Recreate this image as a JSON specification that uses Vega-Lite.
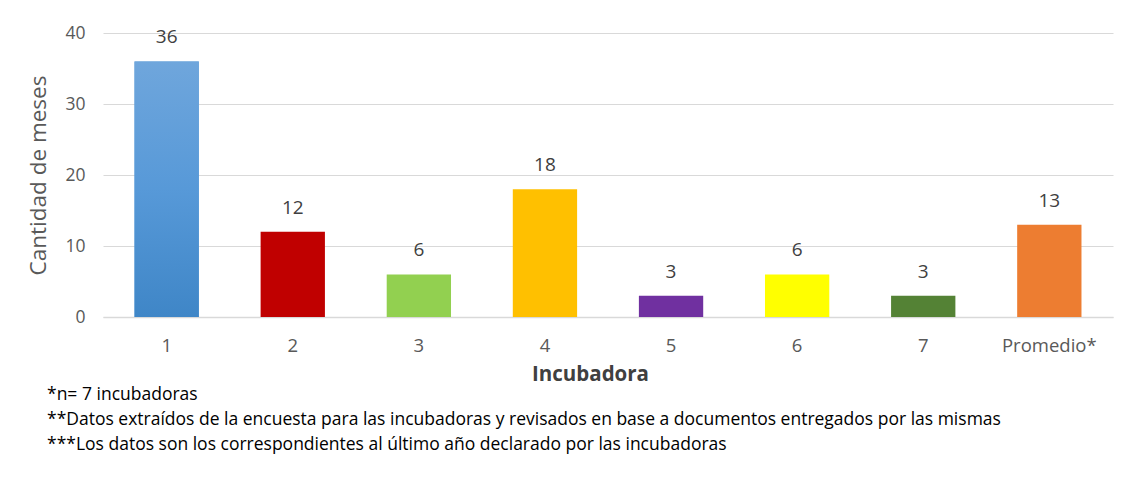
{
  "$schema": "https://vega.github.io/schema/vega-lite/v6.json",
  "width": 1010,
  "height": 284,
  "autosize": {"type": "none"},
  "padding": {"left": 103, "top": 33, "right": 20, "bottom": 160},
  "background": "white",
  "config": {"view": {"stroke": null}, "font": "Open Sans"},
  "title": {
    "text": ["*n= 7 incubadoras", "**Datos extraídos de la encuesta para las incubadoras y revisados en base a documentos  entregados por las mismas", "***Los datos son los correspondientes al último año declarado por las incubadoras"],
    "orient": "bottom",
    "anchor": "start",
    "frame": "group",
    "dx": -56,
    "offset": 1,
    "fontSize": 17.5,
    "fontWeight": "normal",
    "lineHeight": 25,
    "color": "#000000",
    "font": "Open Sans"
  },
  "data": {
    "values": [
      {"incubadora": "1", "meses": 36, "color": "#5B9BD5"},
      {"incubadora": "2", "meses": 12, "color": "#C00000"},
      {"incubadora": "3", "meses": 6, "color": "#92D050"},
      {"incubadora": "4", "meses": 18, "color": "#FFC000"},
      {"incubadora": "5", "meses": 3, "color": "#7030A0"},
      {"incubadora": "6", "meses": 6, "color": "#FFFF00"},
      {"incubadora": "7", "meses": 3, "color": "#548235"},
      {"incubadora": "Promedio*", "meses": 13, "color": "#ED7D31"}
    ]
  },
  "encoding": {
    "x": {
      "field": "incubadora",
      "type": "nominal",
      "sort": null,
      "scale": {"paddingInner": 0.49, "paddingOuter": 0.25},
      "axis": {
        "title": "Incubadora",
        "titleFontSize": 20.5,
        "titleFontWeight": "bold",
        "titleColor": "#404040",
        "titlePadding": 10,
        "titleX": 487,
        "labelAngle": 0,
        "labelFontSize": 18.5,
        "labelColor": "#595959",
        "labelPadding": 19,
        "ticks": false,
        "domainColor": "#D9D9D9",
        "domainWidth": 1.5
      }
    },
    "y": {
      "field": "meses",
      "type": "quantitative",
      "scale": {"domain": [0, 40]},
      "axis": {
        "title": "Cantidad de meses",
        "values": [0, 10, 20, 30, 40],
        "titleFontSize": 22.5,
        "titleFontWeight": "normal",
        "titleColor": "#595959",
        "titlePadding": 14,
        "labelFontSize": 17.5,
        "labelColor": "#595959",
        "labelPadding": 18,
        "ticks": false,
        "domain": false,
        "gridColor": "#D9D9D9",
        "gridWidth": 1.2
      }
    }
  },
  "layer": [
    {
      "mark": {"type": "bar"},
      "encoding": {"color": {"field": "color", "type": "nominal", "scale": null, "legend": null}}
    },
    {
      "transform": [{"filter": "datum.incubadora === '1'"}],
      "mark": {
        "type": "bar",
        "color": {
          "gradient": "linear",
          "x1": 0, "y1": 0, "x2": 0, "y2": 1,
          "stops": [
            {"offset": 0, "color": "#6FA6DC"},
            {"offset": 0.5, "color": "#5799D8"},
            {"offset": 1, "color": "#3F86C7"}
          ]
        }
      }
    },
    {
      "mark": {"type": "text", "dy": -24, "fontSize": 19, "color": "#404040"},
      "encoding": {"text": {"field": "meses", "type": "quantitative"}}
    }
  ]
}
